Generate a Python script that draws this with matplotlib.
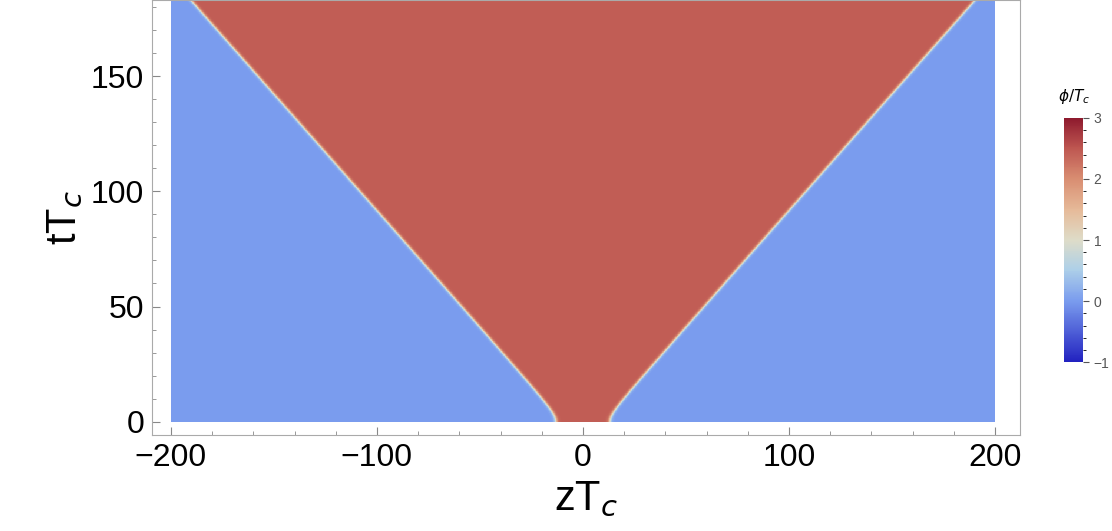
import numpy as np
import matplotlib
matplotlib.use("Agg")
import matplotlib.pyplot as plt
from matplotlib.colors import LinearSegmentedColormap

plt.rcParams['font.family'] = ['Liberation Sans', 'DejaVu Sans']

# field description
z_range = (-200, 200)
t_range = (0, 190)
phi_inside = 2.45
phi_outside = 0.0
wall_z0 = 13.0
wall_speed = 0.99
wall_round = 4.0
wall_width = 1.0
cbar_ticks = [-1, 0, 1, 2, 3]
xticks = [-200, -100, 0, 100, 200]
yticks = [0, 50, 100, 150]

z = np.linspace(*z_range, 1400)
t = np.linspace(*t_range, 700)
Z, T = np.meshgrid(z, t)
R = wall_z0 + wall_speed * (np.sqrt(T**2 + wall_round**2) - wall_round)
phi = phi_outside + (phi_inside - phi_outside) * 0.5 * (1 + np.tanh((R - np.abs(Z)) / wall_width))

cmap = LinearSegmentedColormap.from_list("temp", [
    (0.0, "#2222c0"), (0.25, "#7a9cee"), (0.38, "#aed0e8"), (0.5, "#dedcc8"),
    (0.62, "#e6bb9a"), (0.75, "#d98e72"), (0.88, "#bd5550"), (1.0, "#8e1a2e")])

fig = plt.figure(figsize=(11.12, 5.31), dpi=100)
ax = fig.add_axes([0.137, 0.181, 0.78, 0.819])
im = ax.pcolormesh(Z, T, phi, cmap=cmap, vmin=-1, vmax=3, shading="auto", rasterized=True)
ax.set_xlim(-209, 212)
ax.set_ylim(-5.7, 183)
ax.set_xticks(xticks)
ax.set_yticks(yticks)
ax.set_xticklabels(["\u2212200", "\u2212100", "0", "100", "200"])
ax.tick_params(labelsize=23, direction="in", color="#888888", length=6, pad=6)
ax.minorticks_on()
ax.tick_params(which="minor", direction="in", color="#888888", length=3)
for s in ax.spines.values():
    s.set_color("#aaaaaa")
ax.set_xlabel(r"zT$_c$", fontsize=30)
ax.set_ylabel(r"tT$_c$", fontsize=30)

cax = fig.add_axes([0.957, 0.318, 0.017, 0.46])
cb = fig.colorbar(im, cax=cax, ticks=cbar_ticks)
cb.ax.set_yticklabels(["\u22121", "0", "1", "2", "3"])
cb.ax.tick_params(labelsize=10, colors="#555555", direction="out", length=4)
cb.ax.minorticks_on()
cb.outline.set_visible(False)
cb.ax.set_title(r"$\phi/T_c$", fontsize=11, pad=12)

fig.savefig("out.png", dpi=100)
